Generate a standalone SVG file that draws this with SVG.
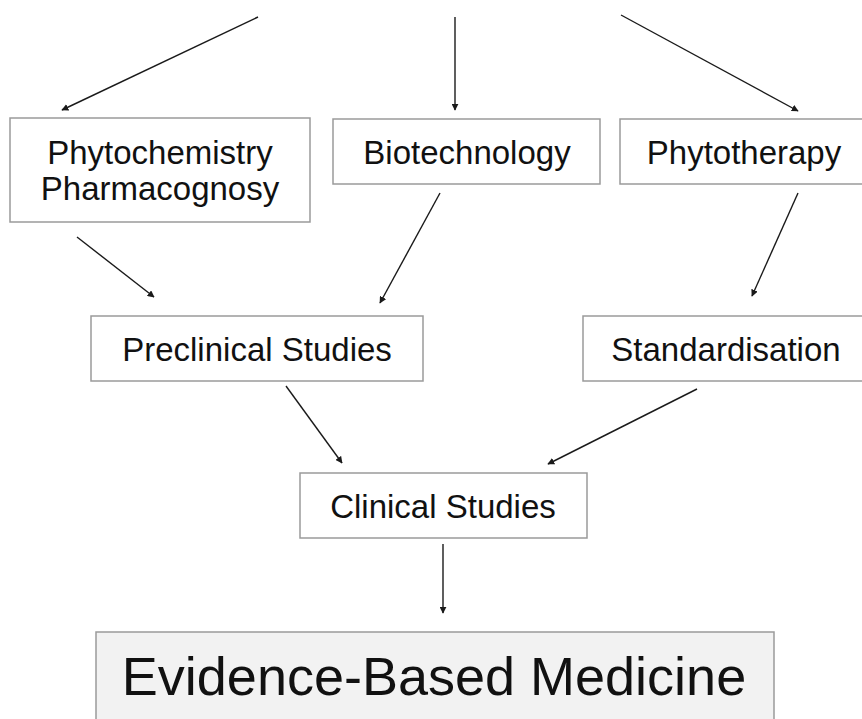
<svg xmlns="http://www.w3.org/2000/svg" width="862" height="719" viewBox="0 0 862 719">
<defs>
<marker id="ah" viewBox="0 0 10 10" refX="9" refY="5" markerWidth="7" markerHeight="7" markerUnits="userSpaceOnUse" orient="auto">
<path d="M0,0 L10,5 L0,10 z" fill="#1a1a1a"/>
</marker>
<style>
.box{fill:#ffffff;stroke:#9a9a9a;stroke-width:1.5}
.ebm{fill:#f2f2f2;stroke:#9a9a9a;stroke-width:1.5}
.t{font-family:"Liberation Sans",Arial,sans-serif;font-size:33px;fill:#111;text-anchor:middle}
.big{font-family:"Liberation Sans",Arial,sans-serif;font-size:54px;fill:#111;text-anchor:middle}
.c{stroke:#1a1a1a;stroke-width:1.4;fill:none;marker-end:url(#ah)}
</style>
</defs>
<rect width="862" height="719" fill="#ffffff"/>
<g id="connectors">
<line class="c" x1="258" y1="17" x2="62" y2="110"/>
<line class="c" x1="455" y1="17" x2="455" y2="110"/>
<line class="c" x1="621" y1="15" x2="798" y2="111"/>
<line class="c" x1="77" y1="237" x2="154" y2="297"/>
<line class="c" x1="440" y1="193" x2="380" y2="303"/>
<line class="c" x1="798" y1="193" x2="752" y2="296"/>
<line class="c" x1="286" y1="386" x2="342" y2="463"/>
<line class="c" x1="697" y1="389" x2="548" y2="464"/>
<line class="c" x1="443" y1="544" x2="443" y2="613"/>
</g>
<g id="phytochemistry">
<rect class="box" x="10" y="118" width="300" height="104"/>
<text class="t" x="160" y="164">Phytochemistry</text>
<text class="t" x="160" y="200">Pharmacognosy</text>
</g>
<g id="biotechnology">
<rect class="box" x="333" y="119" width="267" height="65"/>
<text class="t" x="467" y="164">Biotechnology</text>
</g>
<g id="phytotherapy">
<rect class="box" x="620" y="119" width="250" height="65"/>
<text class="t" x="744" y="164">Phytotherapy</text>
</g>
<g id="preclinical">
<rect class="box" x="91" y="316" width="332" height="65"/>
<text class="t" x="257" y="361">Preclinical Studies</text>
</g>
<g id="standardisation">
<rect class="box" x="583" y="316" width="290" height="65"/>
<text class="t" x="726" y="361">Standardisation</text>
</g>
<g id="clinical">
<rect class="box" x="300" y="473" width="287" height="65"/>
<text class="t" x="443" y="518">Clinical Studies</text>
</g>
<g id="ebm">
<rect class="ebm" x="96" y="632" width="678" height="100"/>
<text class="big" x="434" y="695">Evidence-Based Medicine</text>
</g>
</svg>
